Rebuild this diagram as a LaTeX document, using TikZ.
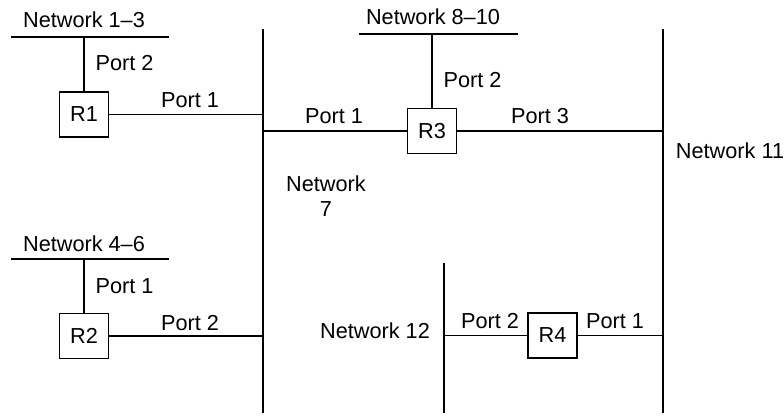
\documentclass[tikz,border=0pt]{standalone}
\usepackage{fontspec}
\setmainfont{Liberation Sans}
\begin{document}
\begin{tikzpicture}[x=1pt,y=-1pt,
  every path/.style={line width=1.1pt},
  router/.style={draw, line width=1.1pt, minimum width=49pt, minimum height=45pt, inner sep=0pt, fill=white, font=\fontsize{21.7}{25}\selectfont},
  lbl/.style={font=\fontsize{21.7}{25}\selectfont, inner sep=0pt, align=center}]
\useasboundingbox (0,0) rectangle (784,416);
% network segments
\coordinate (n13a) at (11,37);  \coordinate (n13b) at (169,37);
\coordinate (n46a) at (11,259); \coordinate (n46b) at (169,259);
\coordinate (n810a) at (359,34); \coordinate (n810b) at (518,34);
\coordinate (n7a) at (263,29);  \coordinate (n7b) at (263,413);
\coordinate (n11a) at (663,29); \coordinate (n11b) at (663,413);
\coordinate (n12a) at (444,263); \coordinate (n12b) at (444,413);
\draw (n13a) -- (n13b);
\draw (n46a) -- (n46b);
\draw (n810a) -- (n810b);
\draw (n7a) -- (n7b);
\draw (n11a) -- (n11b);
\draw (n12a) -- (n12b);
% routers
\node[router] (R1) at (84,114.5) {R1};
\node[router] (R2) at (84,336) {R2};
\node[router] (R3) at (432,131) {R3};
\node[router] (R4) at (552.5,335.5) {R4};
% links
\draw (R1.north) -- (R1.north |- n13a);
\draw (R1.east) -- (R1.east -| n7a);
\draw (R2.north) -- (R2.north |- n46a);
\draw (R2.east) -- (R2.east -| n7a);
\draw (R3.north) -- (R3.north |- n810a);
\draw (R3.west) -- (R3.west -| n7a);
\draw (R3.east) -- (R3.east -| n11a);
\draw (R4.west) -- (R4.west -| n12a);
\draw (R4.east) -- (R4.east -| n11a);
% labels
\node[lbl] (l13) at (84,20) {Network 1–3};
\node[lbl, anchor=west] (l1p2) at (95,63) {Port 2};
\node[lbl] (l1p1) at (190,100) {Port 1};
\node[lbl] (l810) at (433,17) {Network 8–10};
\node[lbl, anchor=west] (l3p2) at (443,80) {Port 2};
\node[lbl] (l3p1) at (334,116) {Port 1};
\node[lbl] (l3p3) at (540,116) {Port 3};
\node[lbl] (l11) at (730,151) {Network 11};
\node[lbl] (l7) at (326,196) {Network\\7};
\node[lbl] (l46) at (84,244) {Network 4–6};
\node[lbl, anchor=west] (l2p1) at (95,286) {Port 1};
\node[lbl] (l2p2) at (190,323) {Port 2};
\node[lbl] (l12) at (375,331) {Network 12};
\node[lbl] (l4p2) at (490,321) {Port 2};
\node[lbl] (l4p1) at (615,321) {Port 1};
\end{tikzpicture}
\end{document}
